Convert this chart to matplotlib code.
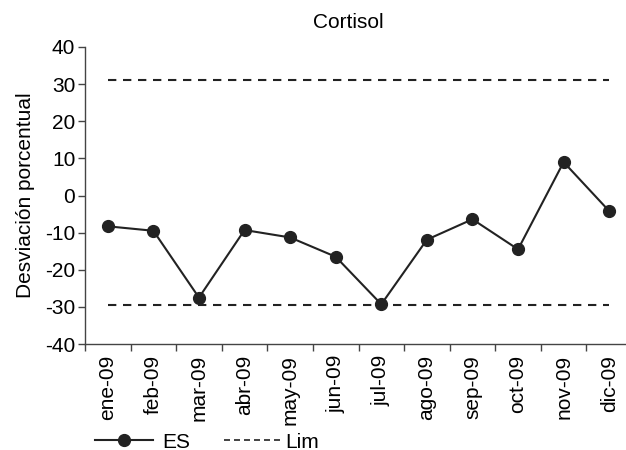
import matplotlib
matplotlib.use("Agg")
import matplotlib.pyplot as plt
from matplotlib.lines import Line2D

months = ["ene-09", "feb-09", "mar-09", "abr-09", "may-09", "jun-09",
          "jul-09", "ago-09", "sep-09", "oct-09", "nov-09", "dic-09"]
es_values = [-8.3, -9.5, -27.5, -9.3, -11.3, -16.5, -29.3, -11.9, -6.4, -14.5, 9.0, -4.2]
lim_upper = 31.0
lim_lower = -29.5
y_ticks = [-40, -30, -20, -10, 0, 10, 20, 30, 40]

plt.rcParams['font.family'] = ['Liberation Sans', 'DejaVu Sans']
fs = 15
color = '#222222'

fig = plt.figure(figsize=(6.26, 4.5), dpi=100)
ax = fig.add_axes([85/626, 1-344/450, (632-85)/626, (344-47)/450])

x = list(range(len(months)))
ax.plot(x, es_values, color=color, lw=1.5, marker='o', markersize=8.5,
        markerfacecolor=color, markeredgecolor=color, zorder=3)
l1, = ax.plot([x[0], x[-1]], [lim_upper, lim_upper], color=color, lw=1.5)
l2, = ax.plot([x[0], x[-1]], [lim_lower, lim_lower], color=color, lw=1.5)
for l in (l1, l2):
    l.set_dashes([4, 3.2])

ax.set_xlim(-0.5, len(months) - 0.5)
ax.set_ylim(-40, 40)
ax.set_yticks(y_ticks)
ax.set_yticklabels([str(v) for v in y_ticks], fontsize=fs)
ax.set_xticks(x)
ax.set_xticklabels(months, rotation=90, fontsize=fs)
ax.set_xticks([i - 0.5 for i in range(len(months) + 1)], minor=True)
ax.tick_params(axis='x', which='major', length=0, pad=8)
ax.tick_params(axis='x', which='minor', length=5, width=1, color='#444444')
ax.tick_params(axis='y', length=5, width=1, color='#444444', pad=2)
for s in ('top', 'right'):
    ax.spines[s].set_visible(False)
for s in ('left', 'bottom'):
    ax.spines[s].set_color('#444444')
    ax.spines[s].set_linewidth(1)

ax.set_ylabel('Desviación porcentual', fontsize=fs)
ax.yaxis.set_label_coords(-(85-35)/547, 0.5)

fig.text(348/626, 1-22/450, 'Cortisol', ha='center', va='center', fontsize=fs)

h1 = Line2D([], [], color=color, lw=1.5, marker='o', markersize=8.5)
h2 = Line2D([], [], color=color, lw=1.2, dashes=[3.6, 2.4])
leg1 = fig.legend([h1], ['ES'], loc='center left',
                  bbox_to_anchor=(95/626, 1-442/450), frameon=False,
                  fontsize=fs, handlelength=2.8, handletextpad=0.45,
                  borderpad=0, borderaxespad=0)
leg2 = fig.legend([h2], ['Lim'], loc='center left',
                  bbox_to_anchor=(224/626, 1-442/450), frameon=False,
                  fontsize=fs, handlelength=2.8, handletextpad=0.15,
                  borderpad=0, borderaxespad=0)

fig.savefig('out.png', dpi=100)
